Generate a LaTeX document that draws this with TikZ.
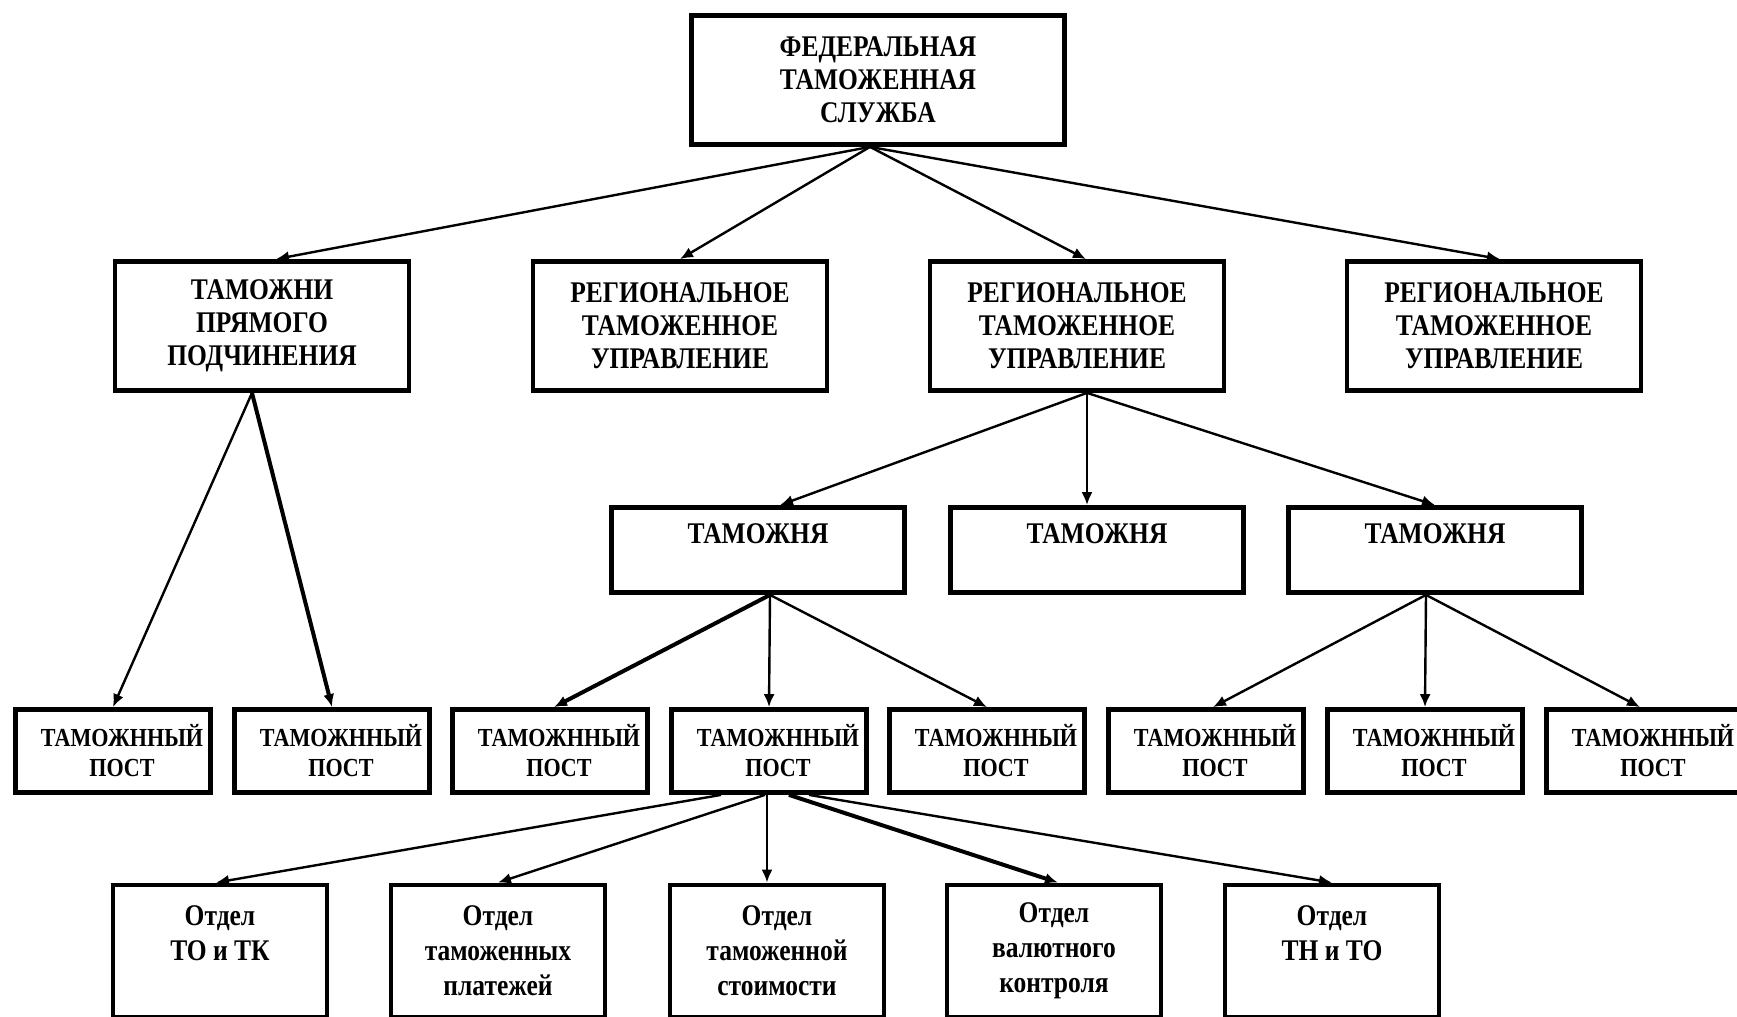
\documentclass[tikz,border=0pt]{standalone}
\usepackage{fontspec}
\newfontfamily\orgfont{Liberation Serif}[FakeStretch=0.85]
\usetikzlibrary{positioning,arrows.meta}
\newcommand{\postlabel}{\hspace*{9pt}ТАМОЖННЫЙ\\\hspace*{9pt}ПОСТ}

\begin{document}
\begin{tikzpicture}[x=0.5pt, y=-0.5pt,
squarednode/.style={rectangle, draw, line width=2.4pt, fill=white, align=center, inner sep=2pt, font=\orgfont\bfseries\fontsize{15}{16.5}\selectfont},
topnode/.style={squarednode, minimum width=186.5pt, minimum height=64.5pt},
unitnode/.style={squarednode, minimum width=147pt, minimum height=64.5pt},
customsnode/.style={squarednode, minimum width=146.5pt, minimum height=42.5pt},
postnode/.style={squarednode, minimum width=97.5pt, minimum height=41.5pt, font=\orgfont\bfseries\fontsize{13}{15}\selectfont},
deptnode/.style={squarednode, minimum width=107pt, minimum height=66pt, font=\orgfont\bfseries\fontsize{15}{17.5}\selectfont},
arr/.style={-{Latex[length=6.5pt,width=5.5pt]}, line width=1.2pt},
thickarr/.style={arr, line width=2pt},
]
\useasboundingbox (0,0) rectangle (1737,1017);

%Nodes
\node[topnode]     (fts)  at (878,80)   {ФЕДЕРАЛЬНАЯ\\ТАМОЖЕННАЯ\\СЛУЖБА};

\node[unitnode]    (tdp)  at (262,326)  {ТАМОЖНИ\\ПРЯМОГО\\ПОДЧИНЕНИЯ};
\node[unitnode]    (rtua) at (680,326)  {РЕГИОНАЛЬНОЕ\\ТАМОЖЕННОЕ\\УПРАВЛЕНИЕ};
\node[unitnode]    (rtub) at (1077,326) {РЕГИОНАЛЬНОЕ\\ТАМОЖЕННОЕ\\УПРАВЛЕНИЕ};
\node[unitnode]    (rtuc) at (1494,326) {РЕГИОНАЛЬНОЕ\\ТАМОЖЕННОЕ\\УПРАВЛЕНИЕ};

\node[customsnode] (tza)  at (758,550)  {ТАМОЖНЯ\\\mbox{}};
\node[customsnode] (tzb)  at (1097,550) {ТАМОЖНЯ\\\mbox{}};
\node[customsnode] (tzc)  at (1435,550) {ТАМОЖНЯ\\\mbox{}};

\node[postnode]    (pa)   at (113,751)  {\postlabel};
\node[postnode]    (pb)   at (332,751)  {\postlabel};
\node[postnode]    (pc)   at (550,751)  {\postlabel};
\node[postnode]    (pd)   at (769,751)  {\postlabel};
\node[postnode]    (pe)   at (987,751)  {\postlabel};
\node[postnode]    (pf)   at (1206,751) {\postlabel};
\node[postnode]    (pg)   at (1425,751) {\postlabel};
\node[postnode]    (ph)   at (1644,751) {\postlabel};

\node[deptnode]    (da)   at (220,951)  {Отдел\\ТО и ТК\\\mbox{}};
\node[deptnode]    (db)   at (498,951)  {Отдел\\таможенных\\платежей};
\node[deptnode]    (dc)   at (777,951)  {Отдел\\таможенной\\стоимости};
\node[deptnode]    (dd)   at (1054,951) {Отдел\\валютного\\контроля};
\node[deptnode]    (de)   at (1332,951) {Отдел\\ТН и ТО\\\mbox{}};

%Lines
\coordinate (ftsout) at ([xshift=-4pt]fts.south);
\draw[arr] (ftsout) -- ([xshift=7pt]tdp.north);
\draw[arr] (ftsout) -- (rtua.north);
\draw[arr] (ftsout) -- ([xshift=4.5pt]rtub.north);
\draw[arr] (ftsout) -- ([xshift=3pt]rtuc.north);

\draw[arr]      ([xshift=-5pt]tdp.south) -- (pa.north);
\draw[thickarr] ([xshift=-5pt]tdp.south) -- (pb.north);

\draw[arr] ([xshift=5pt]rtub.south) -- ([xshift=11pt]tza.north);
\draw[arr] ([xshift=5pt]rtub.south) -- ([xshift=-5pt]tzb.north);
\draw[arr] ([xshift=5pt]rtub.south) -- (tzc.north);

\draw[thickarr] ([xshift=6pt]tza.south) -- ([xshift=2pt]pc.north);
\draw[arr]      ([xshift=6pt]tza.south) -- (pd.north);
\draw[arr]      ([xshift=6pt]tza.south) -- (pe.north);

\draw[arr] ([xshift=-4.5pt]tzc.south) -- ([xshift=3.5pt]pf.north);
\draw[arr] ([xshift=-4.5pt]tzc.south) -- (pg.north);
\draw[arr] ([xshift=-4.5pt]tzc.south) -- ([xshift=-2pt]ph.north);

\draw[arr]      ([xshift=-24pt]pd.south) -- ([xshift=-2pt]da.north);
\draw[arr]      ([xshift=-2pt]pd.south) -- (db.north);
\draw[arr]      ([xshift=-1pt]pd.south) -- ([xshift=-5pt]dc.north);
\draw[thickarr] ([xshift=10pt]pd.south) -- ([xshift=2pt]dd.north);
\draw[arr]      ([xshift=20pt]pd.south) -- (de.north);

\end{tikzpicture}
\end{document}
